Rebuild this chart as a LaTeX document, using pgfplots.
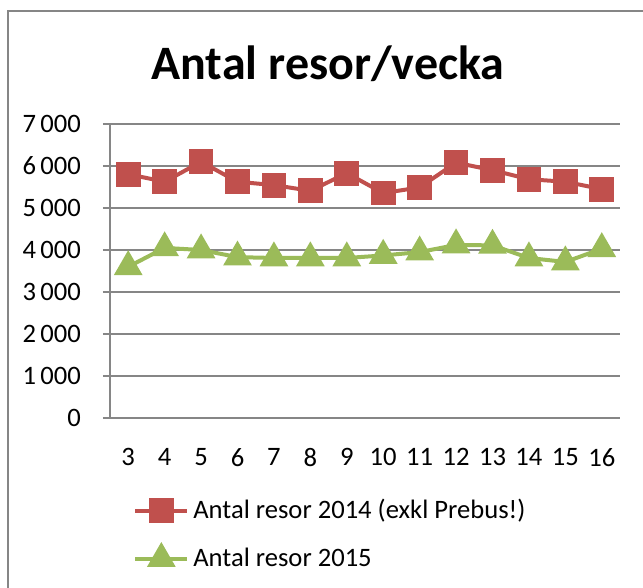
\documentclass[border=0pt]{standalone}
\usepackage{pgfplots}
\pgfplotsset{compat=1.18}
\usepackage{fontspec}
\setmainfont{Carlito}
\definecolor{cred}{HTML}{C0504D}
\definecolor{cgreen}{HTML}{9BBB59}
\definecolor{cgrid}{HTML}{868686}
\begin{document}
\begin{tikzpicture}
\path[use as bounding box] (0,0) rectangle (321.5pt,294pt);
\draw[cgrid,line width=1.1pt] (4pt,0pt) -- (4pt,288.3pt) -- (321.5pt,288.3pt);
\node[font=\fontsize{24}{28}\selectfont\bfseries] at (164pt,262pt) {Antal resor/vecka};
\begin{axis}[
  at={(55pt,85pt)}, anchor=south west,
  scale only axis, width=255pt, height=147pt,
  xmin=2.5, xmax=16.5, ymin=0, ymax=7000,
  xtick={3,...,16}, ytick={0,1000,...,7000},
  font=\fontsize{13.3}{15}\selectfont,
  /pgf/number format/assume math mode=true,
  /pgf/number format/1000 sep={\,},
  ymajorgrids, grid style={cgrid, line width=0.6pt},
  axis x line*=bottom, axis y line*=left,
  axis line style={cgrid, line width=0.6pt},
  x axis line style={-}, y axis line style={-},
  xtick style={draw=none}, ytick style={cgrid, line width=0.6pt},
  tick align=outside, major tick length=3.5pt,
  xticklabel style={yshift=-8pt},
  yticklabel style={xshift=-7.5pt},
  legend style={at={(0.045,-0.262)}, anchor=north west, draw=none, fill=none,
    font=\fontsize{13.3}{15}\selectfont, row sep=9pt, inner sep=0pt,
    /tikz/every even column/.append style={column sep=1pt}},
  legend cell align=left,
  legend image code/.code={
    \draw[#1, mark repeat=2, mark phase=2] plot coordinates {(0pt,0pt) (13pt,0pt) (26pt,0pt)};
  },
]
\addplot[cred, line width=2pt, mark=square*, mark size=5.2pt, mark options={solid}] coordinates {
(3,5805) (4,5625) (5,6100) (6,5625) (7,5545) (8,5410) (9,5830) (10,5355) (11,5490) (12,6080) (13,5900) (14,5685) (15,5625) (16,5450)
};
\addlegendentry{Antal resor 2014 (exkl Prebus!)}
\addplot[cgreen, line width=2pt, mark=triangle*, mark size=6.3pt, mark options={solid}] coordinates {
(3,3600) (4,4050) (5,4000) (6,3830) (7,3810) (8,3810) (9,3810) (10,3870) (11,3950) (12,4120) (13,4110) (14,3810) (15,3715) (16,4030)
};
\addlegendentry{Antal resor 2015}
\end{axis}
\end{tikzpicture}
\end{document}
